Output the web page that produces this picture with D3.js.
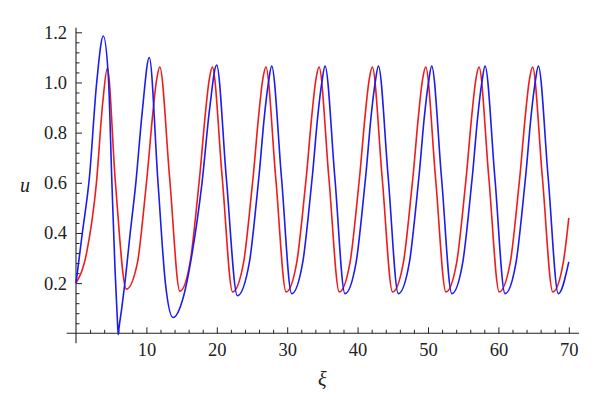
<!DOCTYPE html>
<html>
<head>
<meta charset="utf-8">
<script src="https://cdn.jsdelivr.net/npm/d3@7"></script>
<style>
  body { margin: 0; background: #fff; }
  svg { display: block; }
</style>
</head>
<body>
<div id="chart"></div>
<script>
// size of the picture
const FRAME_WIDTH = 600;
const FRAME_HEIGHT = 414;
const SERIF = "'Liberation Serif', 'Times New Roman', serif";

// ---- data ----
// red curve: xi and u
const redXi = [0, 1.5, 2.9, 3.8, 4.45, 5.6, 7.15,
  8.75, 9.5, 10.15, 10.85, 11.45, 11.9, 13.3, 14.75,
  16.22, 16.97, 17.62, 18.32, 18.92, 19.37, 20.77, 22.25,
  23.82, 24.57, 25.22, 25.92, 26.52, 26.97, 28.37, 29.85,
  31.37, 32.12, 32.77, 33.47, 34.07, 34.52, 35.92, 37.4,
  38.94, 39.69, 40.34, 41.04, 41.64, 42.09, 43.49, 44.97,
  46.52, 47.27, 47.92, 48.62, 49.22, 49.67, 51.07, 52.55,
  54.09, 54.84, 55.49, 56.19, 56.79, 57.24, 58.64, 60.12,
  61.7, 62.45, 63.1, 63.8, 64.4, 64.85, 66.25, 67.73,
  69.23, 70];
const redU = [0.2, 0.32, 0.6, 0.92, 1.056, 0.6, 0.176,
  0.285, 0.46, 0.64, 0.86, 1.01, 1.061, 0.62, 0.168,
  0.285, 0.46, 0.64, 0.86, 1.01, 1.061, 0.62, 0.165,
  0.285, 0.46, 0.64, 0.86, 1.01, 1.061, 0.62, 0.165,
  0.285, 0.46, 0.64, 0.86, 1.01, 1.061, 0.62, 0.165,
  0.285, 0.46, 0.64, 0.86, 1.01, 1.061, 0.62, 0.165,
  0.285, 0.46, 0.64, 0.86, 1.01, 1.061, 0.62, 0.165,
  0.285, 0.46, 0.64, 0.86, 1.01, 1.061, 0.62, 0.165,
  0.285, 0.46, 0.64, 0.86, 1.01, 1.061, 0.62, 0.165,
  0.285, 0.46];

// blue curve: xi and u
const blueXi = [0, 0.9, 1.9, 2.94, 3.88, 4.6, 5.1, 5.55, 5.9, 6.0, 6.1, 6.5, 6.9, 7.7, 8.5, 9.4, 10.41,
  11.65, 12.7, 13.78,
  15.3, 16.5, 17.9, 19.0, 19.98, 21.35, 22.92,
  24.64, 25.39, 26.04, 26.74, 27.34, 27.79, 29.19, 30.63,
  32.22, 32.97, 33.62, 34.32, 34.92, 35.37, 36.77, 38.2,
  39.8, 40.55, 41.2, 41.9, 42.5, 42.95, 44.35, 45.78,
  47.37, 48.12, 48.77, 49.47, 50.07, 50.52, 51.92, 53.38,
  54.95, 55.7, 56.35, 57.05, 57.65, 58.1, 59.5, 60.94,
  62.52, 63.27, 63.92, 64.62, 65.22, 65.67, 67.07, 68.51,
  70];
const blueU = [0.2, 0.4, 0.62, 1.0, 1.185, 1.02, 0.6, 0.25, 0.04, -0.005, 0.02, 0.1, 0.19, 0.4, 0.6, 0.88, 1.099,
  0.6, 0.2, 0.063,
  0.15, 0.32, 0.6, 0.9, 1.069, 0.62, 0.15,
  0.285, 0.46, 0.64, 0.86, 1.0, 1.065, 0.62, 0.158,
  0.285, 0.46, 0.64, 0.86, 1.0, 1.065, 0.62, 0.158,
  0.285, 0.46, 0.64, 0.86, 1.0, 1.065, 0.62, 0.158,
  0.285, 0.46, 0.64, 0.86, 1.0, 1.065, 0.62, 0.158,
  0.285, 0.46, 0.64, 0.86, 1.0, 1.065, 0.62, 0.158,
  0.285, 0.46, 0.64, 0.86, 1.0, 1.065, 0.62, 0.158,
  0.285];

// ticks
const xMajor = [10, 20, 30, 40, 50, 60, 70];
const xMinor = [2, 4, 6, 8, 12, 14, 16, 18, 22, 24, 26, 28, 32, 34, 36, 38,
  42, 44, 46, 48, 52, 54, 56, 58, 62, 64, 66, 68];
const yMajor = [0.2, 0.4, 0.6, 0.8, 1.0, 1.2];
const yMinor = [0.04, 0.08, 0.12, 0.16, 0.24, 0.28, 0.32, 0.36, 0.44, 0.48, 0.52, 0.56,
  0.64, 0.68, 0.72, 0.76, 0.84, 0.88, 0.92, 0.96, 1.04, 1.08, 1.12, 1.16];

// axis extents (a bit past the data, like the picture)
const X_EXTENT = [-1.33, 71.45];
const Y_EXTENT = [-0.04, 1.218];

const FRAME = d3.select("#chart")
  .append("svg")
    .attr("width", FRAME_WIDTH)
    .attr("height", FRAME_HEIGHT);

const X_SCALE = d3.scaleLinear().domain([0, 70]).range([76, 568.8]);
const Y_SCALE = d3.scaleLinear().domain([0, 1.2]).range([333.3, 32.3]);

// style the tick groups the same way
function styleTicks(g) {
  g.select(".domain").remove();
  g.selectAll(".tick line").attr("stroke", "#222");
  g.selectAll(".tick text")
    .style("font-family", SERIF)
    .style("font-size", "18.5px")
    .attr("fill", "#222");
}

// axis lines
FRAME.append("line")
  .attr("x1", X_SCALE(X_EXTENT[0])).attr("x2", X_SCALE(X_EXTENT[1]))
  .attr("y1", Y_SCALE(0)).attr("y2", Y_SCALE(0))
  .attr("stroke", "#222").attr("stroke-width", 1.1);
FRAME.append("line")
  .attr("x1", X_SCALE(0)).attr("x2", X_SCALE(0))
  .attr("y1", Y_SCALE(Y_EXTENT[0])).attr("y2", Y_SCALE(Y_EXTENT[1]))
  .attr("stroke", "#222").attr("stroke-width", 1.1);

// x ticks (pointing up, into the plot)
FRAME.append("g")
  .attr("transform", "translate(0," + Y_SCALE(0) + ")")
  .call(d3.axisBottom(X_SCALE).tickValues(xMajor).tickSize(-6).tickPadding(10))
  .call(styleTicks);
FRAME.append("g")
  .attr("transform", "translate(0," + Y_SCALE(0) + ")")
  .call(d3.axisBottom(X_SCALE).tickValues(xMinor).tickSize(-3.5).tickFormat(""))
  .call(styleTicks);

// y ticks (pointing right)
FRAME.append("g")
  .attr("transform", "translate(" + X_SCALE(0) + ",0)")
  .call(d3.axisLeft(Y_SCALE).tickValues(yMajor).tickSize(-6).tickPadding(9).tickFormat(d3.format(".1f")))
  .call(styleTicks);
FRAME.append("g")
  .attr("transform", "translate(" + X_SCALE(0) + ",0)")
  .call(d3.axisLeft(Y_SCALE).tickValues(yMinor).tickSize(-3.5).tickFormat(""))
  .call(styleTicks);

// curves
const line = d3.line()
  .x(d => X_SCALE(d[0]))
  .y(d => Y_SCALE(d[1]))
  .curve(d3.curveMonotoneX);

FRAME.append("path")
  .datum(d3.zip(redXi, redU))
  .attr("d", line)
  .attr("fill", "none")
  .attr("stroke", "#ee1c1c")
  .attr("stroke-width", 1.6);

FRAME.append("path")
  .datum(d3.zip(blueXi, blueU))
  .attr("d", line)
  .attr("fill", "none")
  .attr("stroke", "#1c1cee")
  .attr("stroke-width", 1.6);

// axis names
FRAME.append("text")
  .attr("x", 25)
  .attr("y", Y_SCALE(0.59))
  .attr("dy", "0.32em")
  .attr("text-anchor", "middle")
  .style("font-family", SERIF)
  .style("font-style", "italic")
  .style("font-size", "20px")
  .attr("fill", "#222")
  .text("u");

FRAME.append("text")
  .attr("x", X_SCALE(35))
  .attr("y", 386)
  .attr("text-anchor", "middle")
  .style("font-family", SERIF)
  .style("font-style", "italic")
  .style("font-size", "20px")
  .attr("fill", "#222")
  .text("ξ");
</script>
</body>
</html>
